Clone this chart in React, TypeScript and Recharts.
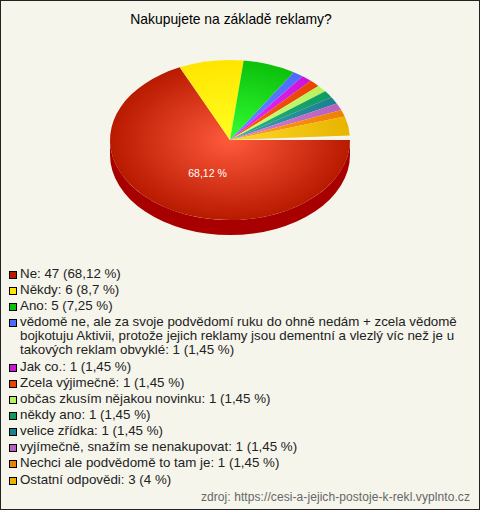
import React from "react";
import { PieChart, Pie, Cell } from "recharts";

const names = ["Ne","Někdy","Ano","vědomě ne, ale za svoje podvědomí ruku do ohně nedám + zcela vědomě bojkotuju Aktivii, protože jejich reklamy jsou dementní a vlezlý víc než je u takových reklam obvyklé","Jak co.","Zcela výjimečně","občas zkusím nějakou novinku","někdy ano","velice zřídka","vyjímečně, snažím se nenakupovat","Nechci ale podvědomě to tam je","Ostatní odpovědi"];
const counts = [47,6,5,1,1,1,1,1,1,1,1,3];
const percents = ["68,12","8,7","7,25","1,45","1,45","1,45","1,45","1,45","1,45","1,45","1,45","4"];
const sliceValues = [68.12,8.7,7.1,1.42,1.42,1.42,1.42,1.42,1.42,1.42,1.42,3.8,0.92];
const outerColors = ["#b81a00","#ffe500","#0cc00c","#4a6cff","#cc14d8","#e84400","#b8f060","#0c9c60","#1c8090","#b860c0","#f08000","#e8b400","none"];
const innerColors = ["#ff5a3c","#ffff20","#33ff33","#6688ff","#e830ff","#ff5a18","#d0ff80","#30b080","#3ca0b0","#d880d8","#ffa020","#ffd828","none"];
const legendColors = ["#b81a00","#ffe500","#0cc00c","#4a6cff","#cc14d8","#e84400","#b8f060","#0c9c60","#1c8090","#b860c0","#f08000","#e8b400"];

const W = 480, H = 510, CX = 230, CY = 140, RX = 120, RY = 80, DEPTH = 15;
const FONT = "'Liberation Sans', Arial, sans-serif";
const pt = (deg: number, y0 = CY) => {
  const a = (deg * Math.PI) / 180;
  return [CX + RX * Math.cos(a), y0 - RY * Math.sin(a)];
};

function Slice(props: any) {
  const { startAngle, endAngle, index } = props;
  const fill = outerColors[index];
  if (fill === "none") return null;
  const [x0, y0] = pt(startAngle);
  const [x1, y1] = pt(endAngle);
  const large = Math.abs(endAngle - startAngle) > 180 ? 1 : 0;
  const lo = Math.max(endAngle, -180), hi = Math.min(startAngle, 0);
  let wall = null;
  if (hi > lo) {
    const [a0, b0] = pt(hi), [a1, b1] = pt(lo);
    wall = <path fill="#a80000" d={`M${a0},${b0}A${RX},${RY} 0 0 1 ${a1},${b1}L${a1},${b1 + DEPTH}A${RX},${RY} 0 0 0 ${a0},${b0 + DEPTH}Z`} />;
  }
  return (
    <g>
      {wall}
      <path fill={`url(#sl${index})`} d={`M${CX},${CY}L${x0},${y0}A${RX},${RY} 0 ${large} 1 ${x1},${y1}Z`} />
    </g>
  );
}

const sliceLabel = (p: any) =>
  p.index === 0 ? (
    <text x={207.5} y={177} textAnchor="middle" fill="#fff" fontSize={10.5} fontFamily={FONT}>{percents[0]} %</text>
  ) : null;

const chartData = sliceValues.map((value, i) => ({ name: names[i] ?? "", value }));

export default function App() {
  return (
    <div style={{ position: "absolute", left: 0, top: 0, width: W, height: H, background: "#f5f5ec", overflow: "hidden", fontFamily: FONT }}>
      <div style={{ position: "absolute", left: 0, width: 462, top: 11, textAlign: "center", fontSize: 13.9, color: "#000" }}>Nakupujete na základě reklamy?</div>
      <div style={{ position: "absolute", left: 0, top: 0 }}>
        <PieChart width={W} height={260} margin={{ top: 0, right: 0, bottom: 0, left: 0 }}>
          <defs>
            {outerColors.map((c, i) => (
              <radialGradient key={i} id={`sl${i}`} gradientUnits="userSpaceOnUse" cx={0} cy={0} r={1} gradientTransform={`translate(${CX} ${CY}) scale(${RX} ${RY})`}>
                <stop offset="0" stopColor={innerColors[i]} />
                <stop offset="1" stopColor={c} />
              </radialGradient>
            ))}
          </defs>
          <Pie data={chartData} dataKey="value" nameKey="name" cx={CX} cy={CY} outerRadius={RX} startAngle={0} endAngle={-360} stroke="none" isAnimationActive={false} shape={Slice} label={sliceLabel} labelLine={false}>
            {chartData.map((_, i) => <Cell key={i} fill={outerColors[i]} />)}
          </Pie>
        </PieChart>
      </div>
      <div style={{ position: "absolute", left: 9, top: 267, width: 452, fontSize: 13.33, lineHeight: "14px", color: "#222" }}>
        {names.map((n, i) => (
          <div key={i} style={{ position: "relative", paddingLeft: 11, marginBottom: 2.15 }}>
            <span style={{ position: "absolute", left: 0, top: 4, width: 6, height: 6, border: "1px solid #000", background: legendColors[i] }} />
            {n}: {counts[i]} ({percents[i]} %)
          </div>
        ))}
      </div>
      <div style={{ position: "absolute", right: 10, top: 490, fontSize: 12, letterSpacing: 0.08, color: "#666" }}>zdroj: https://cesi-a-jejich-postoje-k-rekl.vyplnto.cz</div>
      <div style={{ position: "absolute", left: 0, top: 0, width: W, height: H, boxSizing: "border-box", border: "1px solid #222", pointerEvents: "none" }} />
    </div>
  );
}
